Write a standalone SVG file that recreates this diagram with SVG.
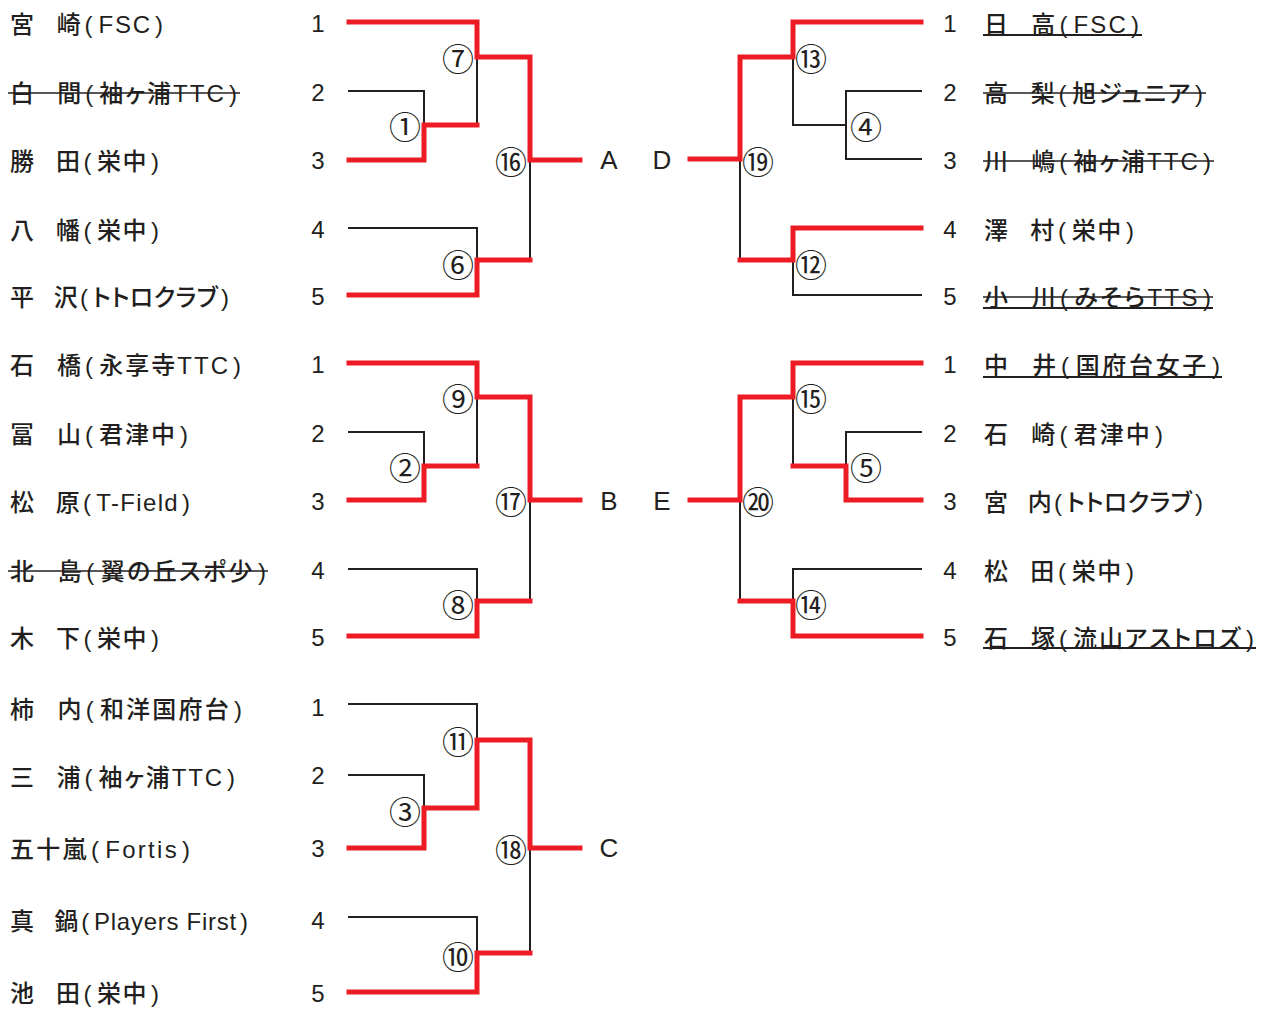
<svg xmlns="http://www.w3.org/2000/svg" width="1262" height="1010" viewBox="0 0 1262 1010">
<style>
.bg{fill:#ffffff}
.red{fill:none;stroke:#ed1c24;stroke-width:5;stroke-linejoin:miter;stroke-linecap:square}
.blk{fill:none;stroke:#231f20;stroke-width:2;stroke-linecap:square}
.nm{font-family:"Liberation Sans","Noto Sans CJK JP","Noto Sans CJK SC",sans-serif;font-size:24px;font-weight:500;letter-spacing:1px;fill:#231f20}
.k{font-feature-settings:"palt" 1}
.no{font-family:"Liberation Sans","DejaVu Sans",sans-serif;font-size:24px;fill:#231f20;text-anchor:middle}
.mt{font-family:"Noto Sans CJK JP","Noto Sans CJK SC",sans-serif;font-size:32px;fill:#231f20;text-anchor:middle;dominant-baseline:central}
.lt{font-family:"Liberation Sans","DejaVu Sans",sans-serif;font-size:26px;fill:#231f20;text-anchor:middle}
.st{stroke:#231f20;stroke-width:1.6}
.ul{stroke:#231f20;stroke-width:2.2}
</style>
<rect class="bg" x="0" y="0" width="1262" height="1010"/>
<g id="connectors">
  <!-- A -->
  <path class="blk" d="M349,91 H424 V125"/>
  <path class="blk" d="M477,57 V125"/>
  <path class="blk" d="M349,228 H477 V260"/>
  <path class="blk" d="M530,160 V260"/>
  <path class="red" d="M349,22 H477 V57 H530 V160 H580"/>
  <path class="red" d="M349,160 H424 V125 H477"/>
  <path class="red" d="M349,295 H477 V260 H530"/>
  <!-- B -->
  <path class="blk" d="M349,432 H424 V466"/>
  <path class="blk" d="M477,397 V466"/>
  <path class="blk" d="M349,569 H477 V601"/>
  <path class="blk" d="M530,500 V601"/>
  <path class="red" d="M349,363 H477 V397 H530 V500 H580"/>
  <path class="red" d="M349,500 H424 V466 H477"/>
  <path class="red" d="M349,636 H477 V601 H530"/>
  <!-- C -->
  <path class="blk" d="M349,704 H477 V740"/>
  <path class="blk" d="M349,775 H424 V808"/>
  <path class="blk" d="M349,917 H477 V953"/>
  <path class="blk" d="M530,848 V953"/>
  <path class="red" d="M580,848 H530 V740 H477 V808 H424 V848 H349"/>
  <path class="red" d="M349,992 H477 V953 H530"/>
  <!-- D -->
  <path class="blk" d="M793,57 V125 H846"/>
  <path class="blk" d="M921,91 H846 V159 H921"/>
  <path class="blk" d="M740,159 V260"/>
  <path class="blk" d="M793,260 V295 H921"/>
  <path class="red" d="M690,159 H740 V57 H793 V22 H921"/>
  <path class="red" d="M740,260 H793 V228 H921"/>
  <!-- E -->
  <path class="blk" d="M793,397 V466"/>
  <path class="blk" d="M921,432 H846 V466"/>
  <path class="blk" d="M740,500 V601"/>
  <path class="blk" d="M793,601 V569 H921"/>
  <path class="red" d="M690,500 H740 V397 H793 V363 H921"/>
  <path class="red" d="M793,466 H846 V500 H921"/>
  <path class="red" d="M740,601 H793 V636 H921"/>
</g>
<g id="matches">
  <text class="mt" x="458" y="57">⑦</text>
  <text class="mt" x="405" y="125">①</text>
  <text class="mt" x="511" y="160">⑯</text>
  <text class="mt" x="458" y="263">⑥</text>
  <text class="mt" x="458" y="397">⑨</text>
  <text class="mt" x="405" y="466">②</text>
  <text class="mt" x="511" y="500">⑰</text>
  <text class="mt" x="458" y="603">⑧</text>
  <text class="mt" x="458" y="740">⑪</text>
  <text class="mt" x="405" y="810">③</text>
  <text class="mt" x="511" y="848">⑱</text>
  <text class="mt" x="458" y="955">⑩</text>
  <text class="mt" x="811" y="57">⑬</text>
  <text class="mt" x="866" y="125">④</text>
  <text class="mt" x="758" y="160">⑲</text>
  <text class="mt" x="811" y="263">⑫</text>
  <text class="mt" x="811" y="397">⑮</text>
  <text class="mt" x="866" y="466">⑤</text>
  <text class="mt" x="758" y="500">⑳</text>
  <text class="mt" x="811" y="603">⑭</text>
</g>
<g id="finals">
  <text class="lt" x="609" y="169">A</text>
  <text class="lt" x="662" y="169">D</text>
  <text class="lt" x="609" y="510">B</text>
  <text class="lt" x="662" y="510">E</text>
  <text class="lt" x="609" y="857">C</text>
</g>
<!-- Block A -->
<g id="a1"><text class="nm" x="10" y="33" textLength="154" lengthAdjust="spacing">宮<tspan dx="-5">　</tspan>崎<tspan dx="2">(</tspan><tspan dx="4">FSC</tspan><tspan dx="3">)</tspan></text><text class="no" x="318" y="32">1</text></g>
<g id="a2"><text class="nm" x="10" y="102" textLength="228" lengthAdjust="spacing">白<tspan dx="-5">　</tspan>間<tspan dx="2">(</tspan><tspan class="k" dx="4">袖ヶ浦TTC</tspan><tspan dx="3">)</tspan></text><line class="st" x1="8" y1="93" x2="240" y2="93"/><text class="no" x="318" y="101">2</text></g>
<g id="a3"><text class="nm" x="10" y="170" textLength="150" lengthAdjust="spacing">勝<tspan dx="-5">　</tspan>田<tspan dx="2">(</tspan><tspan dx="4">栄中</tspan><tspan dx="3">)</tspan></text><text class="no" x="318" y="169">3</text></g>
<g id="a4"><text class="nm" x="10" y="239" textLength="150" lengthAdjust="spacing">八<tspan dx="-5">　</tspan>幡<tspan dx="2">(</tspan><tspan dx="4">栄中</tspan><tspan dx="3">)</tspan></text><text class="no" x="318" y="238">4</text></g>
<g id="a5"><text class="nm" x="10" y="306" textLength="220" lengthAdjust="spacing">平<tspan dx="-5">　</tspan>沢<tspan dx="2">(</tspan><tspan class="k" dx="4">トトロクラブ</tspan><tspan dx="3">)</tspan></text><text class="no" x="318" y="305">5</text></g>
<!-- Block B -->
<g id="b1"><text class="nm" x="10" y="374" textLength="232" lengthAdjust="spacing">石<tspan dx="-5">　</tspan>橋<tspan dx="2">(</tspan><tspan dx="4">永享寺TTC</tspan><tspan dx="3">)</tspan></text><text class="no" x="318" y="373">1</text></g>
<g id="b2"><text class="nm" x="10" y="443" textLength="179" lengthAdjust="spacing">冨<tspan dx="-5">　</tspan>山<tspan dx="2">(</tspan><tspan dx="4">君津中</tspan><tspan dx="3">)</tspan></text><text class="no" x="318" y="442">2</text></g>
<g id="b3"><text class="nm" x="10" y="511" textLength="181" lengthAdjust="spacing">松<tspan dx="-5">　</tspan>原<tspan dx="2">(</tspan><tspan dx="4">T-Field</tspan><tspan dx="3">)</tspan></text><text class="no" x="318" y="510">3</text></g>
<g id="b4"><text class="nm" x="10" y="580" textLength="257" lengthAdjust="spacing">北<tspan dx="-5">　</tspan>島<tspan dx="2">(</tspan><tspan class="k" dx="4">翼の丘スポ少</tspan><tspan dx="3">)</tspan></text><line class="st" x1="8" y1="571" x2="268" y2="571"/><text class="no" x="318" y="579">4</text></g>
<g id="b5"><text class="nm" x="10" y="647" textLength="150" lengthAdjust="spacing">木<tspan dx="-5">　</tspan>下<tspan dx="2">(</tspan><tspan dx="4">栄中</tspan><tspan dx="3">)</tspan></text><text class="no" x="318" y="646">5</text></g>
<!-- Block C -->
<g id="c1"><text class="nm" x="10" y="718" textLength="233" lengthAdjust="spacing">柿<tspan dx="-5">　</tspan>内<tspan dx="2">(</tspan><tspan dx="4">和洋国府台</tspan><tspan dx="3">)</tspan></text><text class="no" x="318" y="716">1</text></g>
<g id="c2"><text class="nm" x="10" y="786" textLength="226" lengthAdjust="spacing">三<tspan dx="-5">　</tspan>浦<tspan dx="2">(</tspan><tspan class="k" dx="4">袖ヶ浦TTC</tspan><tspan dx="3">)</tspan></text><text class="no" x="318" y="784">2</text></g>
<g id="c3"><text class="nm" x="10" y="858" textLength="181" lengthAdjust="spacing">五十嵐<tspan dx="2">(</tspan><tspan dx="4">Fortis</tspan><tspan dx="3">)</tspan></text><text class="no" x="318" y="857">3</text></g>
<g id="c4"><text class="nm" x="10" y="930" textLength="239" lengthAdjust="spacing">真<tspan dx="-5">　</tspan>鍋<tspan dx="2">(</tspan><tspan dx="4">Players First</tspan><tspan dx="3">)</tspan></text><text class="no" x="318" y="929">4</text></g>
<g id="c5"><text class="nm" x="10" y="1002" textLength="150" lengthAdjust="spacing">池<tspan dx="-5">　</tspan>田<tspan dx="2">(</tspan><tspan dx="4">栄中</tspan><tspan dx="3">)</tspan></text><text class="no" x="318" y="1002">5</text></g>
<!-- Block D -->
<g id="d1"><text class="no" x="950" y="32">1</text><text class="nm" x="984" y="33" textLength="156" lengthAdjust="spacing">日<tspan dx="-5">　</tspan>高<tspan dx="2">(</tspan><tspan dx="4">FSC</tspan><tspan dx="3">)</tspan></text><line class="ul" x1="983" y1="35" x2="1142" y2="35"/></g>
<g id="d2"><text class="no" x="950" y="101">2</text><text class="nm" x="984" y="102" textLength="220" lengthAdjust="spacing">高<tspan dx="-5">　</tspan>梨<tspan dx="2">(</tspan><tspan class="k" dx="4">旭ジュニア</tspan><tspan dx="3">)</tspan></text><line class="st" x1="983" y1="93" x2="1206" y2="93"/></g>
<g id="d3"><text class="no" x="950" y="169">3</text><text class="nm" x="984" y="170" textLength="228" lengthAdjust="spacing">川<tspan dx="-5">　</tspan>嶋<tspan dx="2">(</tspan><tspan class="k" dx="4">袖ヶ浦TTC</tspan><tspan dx="3">)</tspan></text><line class="st" x1="983" y1="161" x2="1214" y2="161"/></g>
<g id="d4"><text class="no" x="950" y="238">4</text><text class="nm" x="984" y="239" textLength="151" lengthAdjust="spacing">澤<tspan dx="-5">　</tspan>村<tspan dx="2">(</tspan><tspan dx="4">栄中</tspan><tspan dx="3">)</tspan></text></g>
<g id="d5"><text class="no" x="950" y="305">5</text><text class="nm" x="984" y="306" textLength="228" lengthAdjust="spacing">小<tspan dx="-5">　</tspan>川<tspan dx="2">(</tspan><tspan class="k" dx="4">みそらTTS</tspan><tspan dx="3">)</tspan></text><line class="st" x1="983" y1="297" x2="1213" y2="297"/><line class="ul" x1="983" y1="308" x2="1213" y2="308"/></g>
<!-- Block E -->
<g id="e1"><text class="no" x="950" y="373">1</text><text class="nm" x="984" y="374" textLength="237" lengthAdjust="spacing">中<tspan dx="-5">　</tspan>井<tspan dx="2">(</tspan><tspan dx="4">国府台女子</tspan><tspan dx="3">)</tspan></text><line class="ul" x1="983" y1="377" x2="1222" y2="377"/></g>
<g id="e2"><text class="no" x="950" y="442">2</text><text class="nm" x="984" y="443" textLength="180" lengthAdjust="spacing">石<tspan dx="-5">　</tspan>崎<tspan dx="2">(</tspan><tspan dx="4">君津中</tspan><tspan dx="3">)</tspan></text></g>
<g id="e3"><text class="no" x="950" y="510">3</text><text class="nm" x="984" y="511" textLength="220" lengthAdjust="spacing">宮<tspan dx="-5">　</tspan>内<tspan dx="2">(</tspan><tspan class="k" dx="4">トトロクラブ</tspan><tspan dx="3">)</tspan></text></g>
<g id="e4"><text class="no" x="950" y="579">4</text><text class="nm" x="984" y="580" textLength="151" lengthAdjust="spacing">松<tspan dx="-5">　</tspan>田<tspan dx="2">(</tspan><tspan dx="4">栄中</tspan><tspan dx="3">)</tspan></text></g>
<g id="e5"><text class="no" x="950" y="646">5</text><text class="nm" x="984" y="647" textLength="271" lengthAdjust="spacing">石<tspan dx="-5">　</tspan>塚<tspan dx="2">(</tspan><tspan class="k" dx="4">流山アストロズ</tspan><tspan dx="3">)</tspan></text><line class="ul" x1="983" y1="648" x2="1256" y2="648"/></g>
</svg>
